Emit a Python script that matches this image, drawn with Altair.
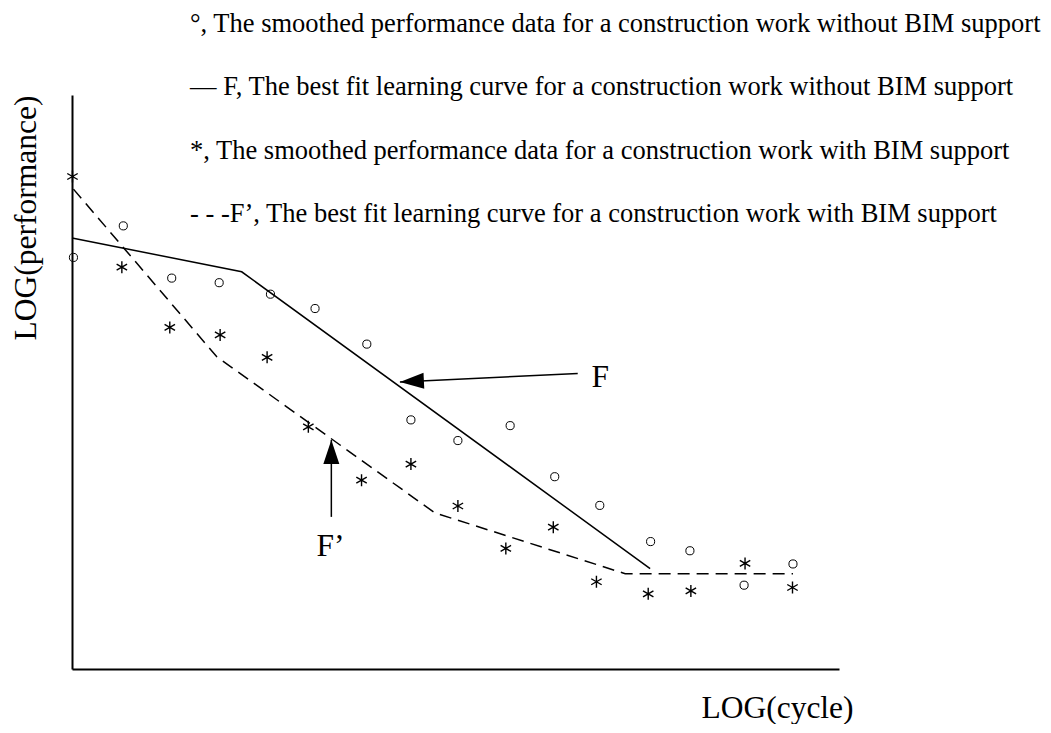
import altair as alt
import pandas as pd

# Smoothed performance data without BIM support (circles)
cycle_o = [0.03, 1.07, 2.08, 3.07, 4.14, 5.07, 6.15, 7.07, 8.05, 9.14, 10.07, 11.01, 12.07, 12.89, 14.02, 15.04]
perf_o = [71.7, 77.2, 68.1, 67.3, 65.3, 62.8, 56.6, 43.4, 39.8, 42.4, 33.5, 28.5, 22.2, 20.6, 14.6, 18.3]

# Smoothed performance data with BIM support (asterisks)
cycle_s = [0.01, 1.04, 2.04, 3.09, 4.07, 4.93, 6.04, 7.07, 8.05, 9.05, 10.04, 10.94, 12.02, 12.91, 14.04, 15.03]
perf_s = [85.8, 70.0, 59.5, 58.2, 54.3, 42.2, 32.9, 35.7, 28.4, 21.0, 24.7, 15.2, 13.1, 13.6, 18.4, 14.2]

# Best fit learning curve F (without BIM)
fit_x = [0.0, 3.54, 12.06]
fit_y = [75.1, 69.2, 17.5]

# Best fit learning curve F' (with BIM)
bim_fit_x = [0.03, 3.02, 7.57, 11.54, 15.04]
bim_fit_y = [83.6, 54.4, 27.2, 16.6, 16.6]

# Annotation arrows: tip and tail
arrow_names = ["F", "F\u2019"]
arrow_tip_x = [6.84, 5.41]
arrow_tip_y = [50.0, 39.9]
arrow_tail_x = [10.55, 5.41]
arrow_tail_y = [51.5, 26.5]
arrow_angle = [357.3, 90.0]
label_x = [11.02, 5.39]
label_y = [49.2, 19.6]

legend_lines = [
    "\u00b0, The smoothed performance data for a construction work without BIM support",
    "\u2014 F, The best fit learning curve for a construction work without BIM support",
    "*, The smoothed performance data for a construction work with BIM support",
    "- - -F\u2019, The best fit learning curve for a construction work with BIM support",
]

FONT = "Liberation Serif"

df_o = pd.DataFrame({"cycle": cycle_o, "perf": perf_o})
df_s = pd.DataFrame({"cycle": cycle_s, "perf": perf_s})
df_f = pd.DataFrame({"cycle": fit_x, "perf": fit_y})
df_fb = pd.DataFrame({"cycle": bim_fit_x, "perf": bim_fit_y})
df_arr = pd.DataFrame({
    "name": arrow_names,
    "tx": arrow_tip_x, "ty": arrow_tip_y,
    "sx": arrow_tail_x, "sy": arrow_tail_y,
    "ang": arrow_angle, "lx": label_x, "ly": label_y,
})
df_leg = pd.DataFrame({"t": ["\n".join(legend_lines)]})

xs = alt.Scale(domain=[0, 16], nice=False, zero=False)
ys = alt.Scale(domain=[0, 100], nice=False, zero=False)

X = lambda f: alt.X(f, type="quantitative", scale=xs,
                    axis=alt.Axis(title="LOG(cycle)", titleX=705, titleY=48,
                                  titleAlign="center", titleBaseline="alphabetic"))
Y = lambda f: alt.Y(f, type="quantitative", scale=ys,
                    axis=alt.Axis(title="LOG(performance)", titleAnchor="end", titlePadding=30))

line_f = alt.Chart(df_f).mark_line(color="black", strokeWidth=1.5).encode(
    x=X("cycle"), y=Y("perf"))
line_fb = alt.Chart(df_fb).mark_line(color="black", strokeWidth=1.5, strokeDash=[12, 7]).encode(
    x=X("cycle"), y=Y("perf"))

circles = alt.Chart(df_o).mark_point(shape="circle", filled=False, color="black",
                                     size=66, strokeWidth=1, opacity=1).encode(
    x=X("cycle"), y=Y("perf"))

star_path = "M0,-1L0,1M-0.87,-0.5L0.87,0.5M-0.87,0.5L0.87,-0.5"
stars = alt.Chart(df_s).mark_point(shape=star_path, filled=False, color="black",
                                   size=144, strokeWidth=1.4, opacity=1).encode(
    x=X("cycle"), y=Y("perf"))

arrow_lines = alt.Chart(df_arr).mark_rule(color="black", strokeWidth=1.5).encode(
    x=X("tx"), y=Y("ty"), x2="sx", y2="sy")

head_path = "M0,0L2,-0.667L2,0.667Z"
arrow_heads = alt.Chart(df_arr).mark_point(shape=head_path, filled=True, color="black",
                                           size=576, opacity=1).encode(
    x=X("tx"), y=Y("ty"), angle=alt.Angle("ang:Q", scale=None))

labels = alt.Chart(df_arr).mark_text(font=FONT, fontSize=31.5, color="black",
                                     align="center", baseline="alphabetic").encode(
    x=X("lx"), y=Y("ly"), text="name:N")

legend = alt.Chart(df_leg).mark_text(font=FONT, fontSize=26.5, color="black",
                                     align="left", baseline="alphabetic",
                                     lineBreak="\n", lineHeight=63.3).encode(
    x=alt.value(118), y=alt.value(-63), text="t:N")

chart = alt.layer(line_f, line_fb, arrow_lines, arrow_heads, circles, stars, labels, legend).properties(
    width=767, height=574,
    autosize=alt.AutoSizeParams(type="none"),
    padding={"left": 64, "top": 87, "right": 204, "bottom": 55},
).configure_view(stroke=None).configure_axis(
    domain=True, domainColor="black", domainWidth=2,
    ticks=False, labels=False, grid=False,
    titleFont=FONT, titleFontSize=31.5, titleFontWeight="normal", titleColor="black",
).configure_axisX(orient="bottom")

chart.save("out.html", embed_options={"renderer": "svg", "actions": False})
